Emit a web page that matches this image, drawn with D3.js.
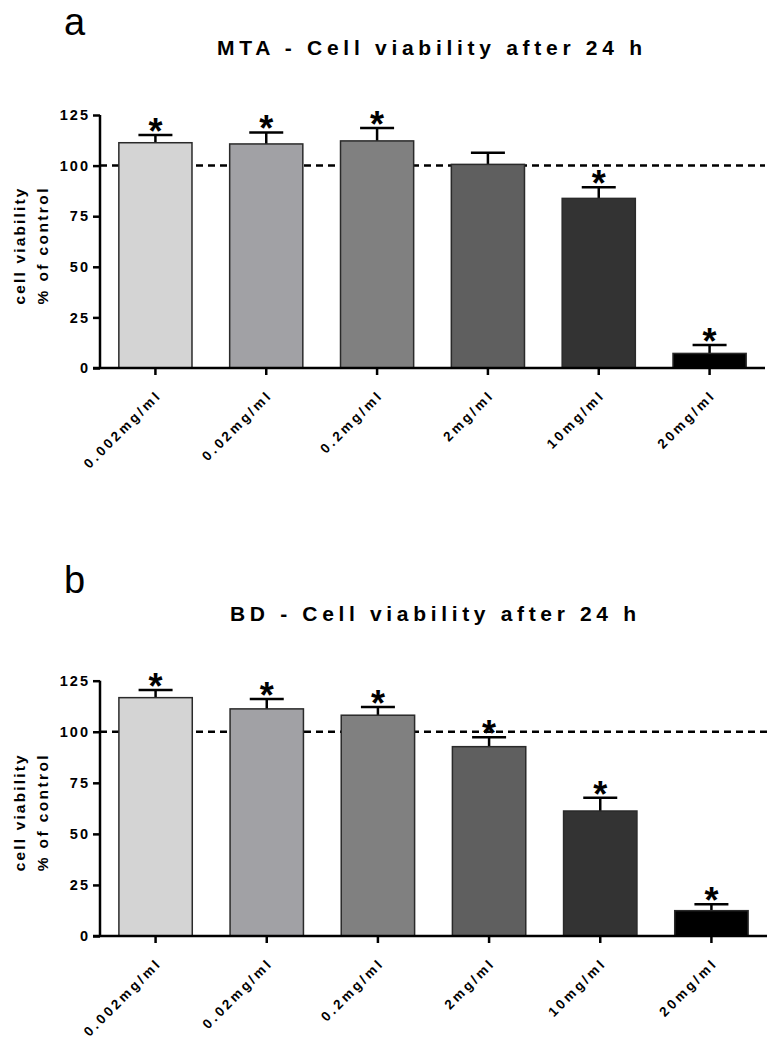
<!DOCTYPE html>
<html>
<head>
<meta charset="utf-8">
<script src="https://cdn.jsdelivr.net/npm/d3@7"></script>
<style>
  body { margin: 0; background: #fff; }
  text { font-family: "Liberation Sans", Arial, sans-serif; }
</style>
</head>
<body>
<script>
// concentrations on the x axis
const categories = ["0.002mg/ml", "0.02mg/ml", "0.2mg/ml", "2mg/ml", "10mg/ml", "20mg/ml"];
const barColors = ["#d4d4d4", "#a1a1a5", "#808080", "#5f5f5f", "#333333", "#000000"];
const yTicks = [0, 25, 50, 75, 100, 125];

// panel a - MTA
const mtaMeans = [111.3, 110.7, 112.2, 100.6, 83.8, 7.2];
const mtaErrors = [3.8, 5.7, 6.4, 5.8, 5.5, 4.2];
const mtaSignif = [true, true, true, false, true, true];

// panel b - BD
const bdMeans = [116.7, 111.2, 108.1, 92.7, 61.2, 12.4];
const bdErrors = [3.8, 4.9, 4.0, 4.6, 6.5, 3.1];
const bdSignif = [true, true, true, true, true, true];

const svg = d3.select("body").append("svg")
  .attr("width", 777)
  .attr("height", 1044);

function drawPanel(cfg) {
  var x = d3.scaleBand().domain(categories)
    .range([cfg.left, cfg.right])
    .paddingInner(0.34).paddingOuter(0.17);
  var y = d3.scaleLinear().domain([0, 125]).range([cfg.bottom, cfg.top]);

  var g = svg.append("g");

  // panel letter + title
  g.append("text")
    .attr("x", 64).attr("y", cfg.letterY)
    .attr("font-size", 38)
    .text(cfg.letter);

  g.append("text")
    .attr("x", cfg.titleX).attr("y", cfg.titleY)
    .attr("font-size", 21).attr("font-weight", "bold")
    .attr("textLength", cfg.titleLen).attr("lengthAdjust", "spacing")
    .text(cfg.title);

  // reference line at 100 %, drawn under the bars
  g.append("line")
    .attr("x1", cfg.left).attr("x2", cfg.right)
    .attr("y1", y(100)).attr("y2", y(100))
    .attr("stroke", "#000").attr("stroke-width", 2.5)
    .attr("stroke-dasharray", "7,5");

  var data = cfg.means.map((m, i) => ({ cat: categories[i], mean: m, err: cfg.errors[i], sig: cfg.signif[i], color: barColors[i] }));

  // error bars (upper only)
  g.selectAll(".err").data(data).enter().append("line")
    .attr("x1", d => x(d.cat) + x.bandwidth() / 2)
    .attr("x2", d => x(d.cat) + x.bandwidth() / 2)
    .attr("y1", d => y(d.mean)).attr("y2", d => y(d.mean + d.err))
    .attr("stroke", "#000").attr("stroke-width", 2.5);

  g.selectAll(".cap").data(data).enter().append("line")
    .attr("x1", d => x(d.cat) + x.bandwidth() / 2 - 17)
    .attr("x2", d => x(d.cat) + x.bandwidth() / 2 + 17)
    .attr("y1", d => y(d.mean + d.err)).attr("y2", d => y(d.mean + d.err))
    .attr("stroke", "#000").attr("stroke-width", 2.5);

  g.selectAll(".bar").data(data).enter().append("rect")
    .attr("x", d => x(d.cat))
    .attr("width", x.bandwidth())
    .attr("y", d => y(d.mean))
    .attr("height", d => y(0) - y(d.mean))
    .attr("fill", d => d.color)
    .attr("stroke", "#2a2a2a").attr("stroke-width", 1.5);

  // significance stars
  g.selectAll(".star").data(data.filter(d => d.sig)).enter().append("text")
    .attr("x", d => x(d.cat) + x.bandwidth() / 2)
    .attr("y", d => y(d.mean + d.err) + 9)
    .attr("text-anchor", "middle")
    .attr("font-size", 36).attr("font-weight", "bold")
    .text("*");

  // axes
  var yAxis = d3.axisLeft(y).tickValues(yTicks).tickSize(7).tickPadding(5);
  var ya = g.append("g")
    .attr("transform", "translate(" + cfg.left + ",0)")
    .call(yAxis);
  ya.select(".domain").attr("stroke-width", 2.5).attr("d", "M0," + y(125) + "V" + y(0));
  ya.selectAll(".tick line").attr("stroke-width", 2.5);
  ya.selectAll(".tick text")
    .attr("font-family", "Liberation Sans, Arial, sans-serif")
    .attr("font-size", 14.5).attr("font-weight", "bold")
    .attr("letter-spacing", 2).attr("dx", 2).attr("fill", "#000");

  var xAxis = d3.axisBottom(x).tickSize(7).tickFormat("");
  var xa = g.append("g")
    .attr("transform", "translate(0," + cfg.bottom + ")")
    .call(xAxis);
  xa.select(".domain").attr("stroke-width", 2.5).attr("d", "M" + (cfg.left - 7) + ",0H" + cfg.right);
  xa.selectAll(".tick line").attr("stroke-width", 2.5);

  g.selectAll(".xlab").data(categories).enter().append("text")
    .attr("transform", d => "translate(" + (x(d) + x.bandwidth() / 2 + 7) + "," + (cfg.bottom + 28) + ") rotate(-45)")
    .attr("text-anchor", "end")
    .attr("font-size", 13.5).attr("font-weight", "bold")
    .attr("letter-spacing", 3)
    .text(d => d);

  // y axis title (two lines)
  var cy = (cfg.top + cfg.bottom) / 2 + 5;
  g.append("text")
    .attr("transform", "translate(25," + cy + ") rotate(-90)")
    .attr("text-anchor", "middle")
    .attr("font-size", 15.5).attr("font-weight", "bold")
    .attr("textLength", 116).attr("lengthAdjust", "spacing")
    .text("cell viability");
  g.append("text")
    .attr("transform", "translate(48," + cy + ") rotate(-90)")
    .attr("text-anchor", "middle")
    .attr("font-size", 15.5).attr("font-weight", "bold")
    .attr("textLength", 116).attr("lengthAdjust", "spacing")
    .text("% of control");
}

drawPanel({
  letter: "a", letterY: 35,
  title: "MTA - Cell viability after 24 h", titleX: 217, titleY: 55, titleLen: 425,
  left: 100, right: 765, top: 115, bottom: 368,
  means: mtaMeans, errors: mtaErrors, signif: mtaSignif
});

drawPanel({
  letter: "b", letterY: 593,
  title: "BD - Cell viability after 24 h", titleX: 230, titleY: 621, titleLen: 406,
  left: 100, right: 767, top: 680.7, bottom: 936,
  means: bdMeans, errors: bdErrors, signif: bdSignif
});
</script>
</body>
</html>
